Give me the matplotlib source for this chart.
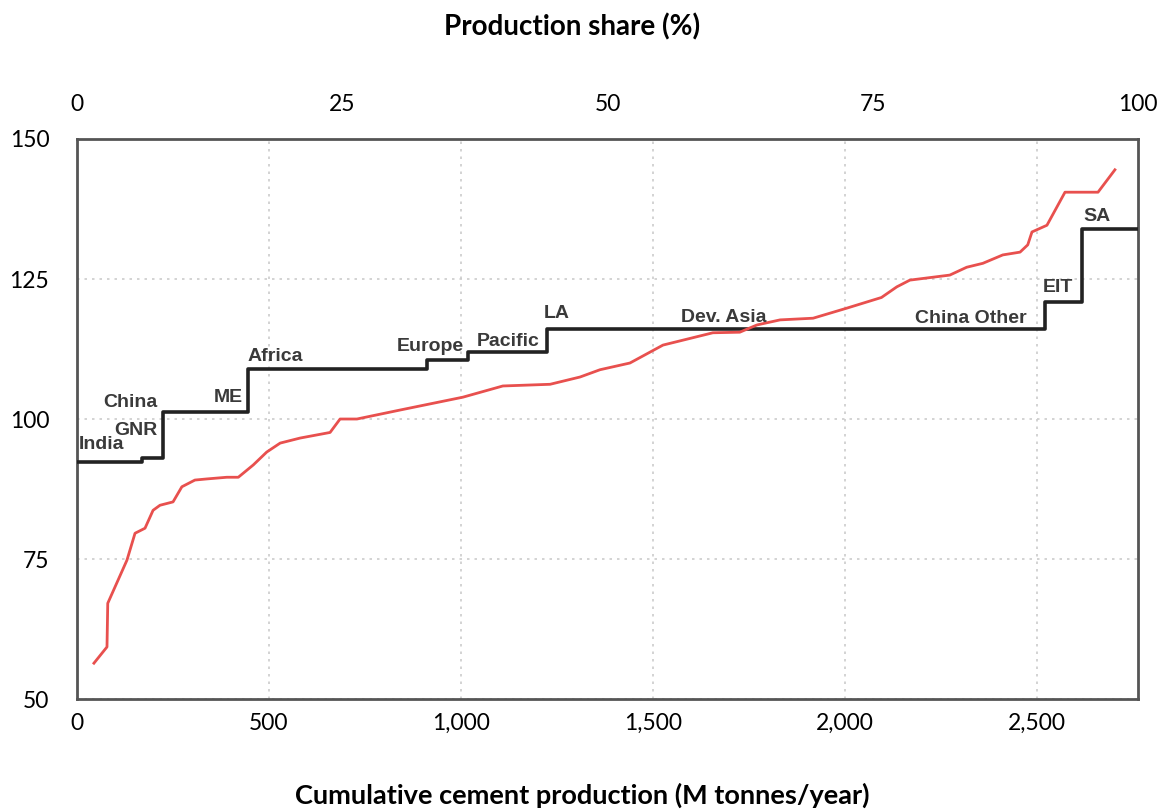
import numpy as np
import matplotlib.pyplot as plt
from matplotlib.ticker import FuncFormatter

# Cost curve: red line (cumulative production vs. cost index)
curve_x = [44, 78, 80, 130, 151, 177, 198, 216, 250, 273, 307, 338, 390, 420, 459,
           494, 529, 581, 659, 685, 729, 841, 1005, 1109, 1232, 1310, 1362, 1440,
           1526, 1656, 1726, 1771, 1831, 1917, 2005, 2095, 2135, 2169, 2273, 2317,
           2359, 2411, 2456, 2476, 2487, 2526, 2573, 2659, 2703]
curve_y = [56.4, 59.3, 67.1, 74.8, 79.6, 80.5, 83.7, 84.6, 85.2, 87.9, 89.1, 89.3,
           89.6, 89.6, 91.8, 94.1, 95.7, 96.6, 97.6, 100.0, 100.0, 101.6, 103.9,
           105.9, 106.2, 107.5, 108.8, 110.0, 113.2, 115.4, 115.5, 116.8, 117.7,
           118.0, 119.8, 121.7, 123.6, 124.8, 125.7, 127.1, 127.8, 129.3, 129.8,
           131.1, 133.4, 134.6, 140.5, 140.5, 144.5]

# Regional step curve (black)
step_edges = [0, 169, 224, 445, 911, 1018, 1224, 2521, 2617, 2763]
step_levels = [92.3, 93.0, 101.3, 108.9, 110.5, 112.0, 116.1, 120.9, 133.9]

region_names = ["India", "GNR", "China", "ME", "Africa", "Europe", "Pacific",
                "LA", "Dev. Asia", "China Other", "EIT", "SA"]
label_x = [5, 154, 138, 393, 516, 919, 1122, 1250, 1685, 2328, 2555, 2656]
label_y = [95.4, 98.0, 102.9, 103.9, 111.1, 112.9, 113.9, 118.9, 118.2, 118.0, 123.4, 136.1]

x_ticks = [0, 500, 1000, 1500, 2000, 2500]
y_ticks = [50, 75, 100, 125, 150]
share_ticks = [0, 25, 50, 75, 100]

XMAX = 2763

plt.rcParams['font.family'] = ['Lato', 'DejaVu Sans']

fig = plt.figure(figsize=(11.62, 8.10), dpi=100)
ax = fig.add_axes([0.0663, 0.137, 0.913, 0.6914])

ax.set_xlim(0, XMAX)
ax.set_ylim(50, 150)
ax.set_xticks(x_ticks)
ax.set_yticks(y_ticks)
ax.xaxis.set_major_formatter(FuncFormatter(lambda v, p: f"{int(v):,}"))
ax.tick_params(axis='x', length=0, pad=10, labelsize=16.5)
ax.tick_params(axis='y', length=0, pad=20, labelsize=16.5)
ax.grid(True, color='#cccccc', linestyle=(0, (1.5, 3)), linewidth=1.2)
ax.set_axisbelow(True)
for s in ax.spines.values():
    s.set_color('#555555')
    s.set_linewidth(2)

# black regional steps
ax.step(step_edges, step_levels + [step_levels[-1]], where='post',
        color='#222222', linewidth=2.6, zorder=3)

# red cost curve
ax.plot(curve_x, curve_y, color='#e8504e', linewidth=2, zorder=4)

for name, lx, ly in zip(region_names, label_x, label_y):
    ha = 'left' if name == "India" else 'center'
    ax.text(lx, ly, name, ha=ha, va='center', fontsize=14,
            fontweight='bold', color='#3a3a3a', family='Liberation Sans', zorder=5)

# top axis: production share
ax2 = ax.twiny()
ax2.set_xlim(0, 100)
ax2.set_xticks(share_ticks)
ax2.tick_params(axis='x', length=0, pad=17, labelsize=16.5)
for s in ax2.spines.values():
    s.set_visible(False)

fig.text(572 / 1162, 1 - 27 / 810, "Production share (%)", ha='center', va='center',
         fontsize=20, fontweight='bold')
fig.text(582 / 1162, 1 - 795 / 810, "Cumulative cement production (M tonnes/year)",
         ha='center', va='center', fontsize=19.5, fontweight='bold')

fig.savefig('out.png', dpi=100)
